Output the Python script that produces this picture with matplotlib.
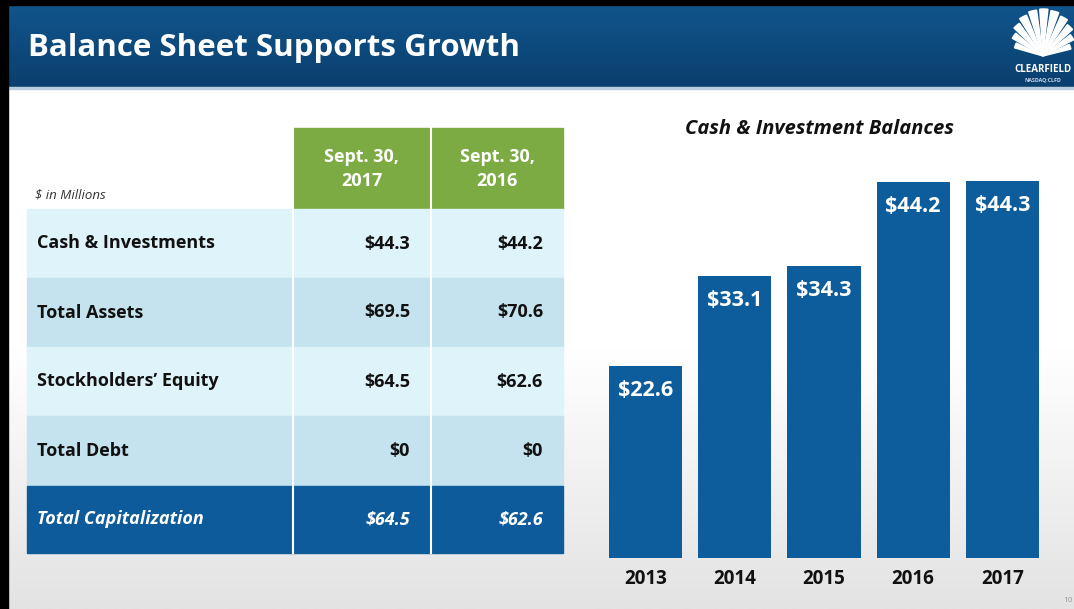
import numpy as np
import matplotlib.pyplot as plt
from matplotlib.patches import Rectangle, Wedge
from matplotlib.colors import LinearSegmentedColormap

# data
years = ['2013', '2014', '2015', '2016', '2017']
balances = [22.6, 33.1, 34.3, 44.2, 44.3]

row_labels = ['Cash & Investments', 'Total Assets', 'Stockholders’ Equity',
              'Total Debt', 'Total Capitalization']
vals_2017 = [44.3, 69.5, 64.5, 0, 64.5]
vals_2016 = [44.2, 70.6, 62.6, 0, 62.6]
col_heads = ['Sept. 30,\n2017', 'Sept. 30,\n2016']

plt.rcParams['font.family'] = ['Open Sans', 'DejaVu Sans']

W, H = 1074, 609
fig = plt.figure(figsize=(W / 100, H / 100), dpi=100)

# background axes in pixel coords (y down)
bg = fig.add_axes([0, 0, 1, 1])
bg.set_xlim(0, W)
bg.set_ylim(H, 0)
bg.axis('off')

# slide background: white fading to light gray at the bottom
grad = np.linspace(0, 1, 300).reshape(-1, 1)
gray_cm = LinearSegmentedColormap.from_list('g', ['#ffffff', '#ffffff', '#e3e3e3'])
bg.imshow(grad, cmap=gray_cm, extent=(0, W, H, 88), aspect='auto', zorder=0)

# header band
hdr_cm = LinearSegmentedColormap.from_list('h', ['#11558c', '#0a3f6e'])
bg.imshow(np.linspace(0, 1, 100).reshape(-1, 1), cmap=hdr_cm,
          extent=(8, W, 88, 5), aspect='auto', zorder=1)
bg.add_patch(Rectangle((8, 87), W, 2, color='#b9cfe0', zorder=2))
bg.text(28, 48, 'Balance Sheet Supports Growth', color='white', fontsize=22.5,
        fontweight='bold', va='center', ha='left', zorder=3)

# black slide border
bg.add_patch(Rectangle((0, 0), 8, H, color='black', zorder=5))
bg.add_patch(Rectangle((0, 0), W, 5, color='black', zorder=5))

# logo (scallop shell: ribs fanning up from a point)
cx, cy = 1043, 56
n_ribs = 11
for k in range(n_ribs):
    a0 = 196 + k * 14
    mid = np.radians(a0 + 5)
    r = 20 + 27 * abs(np.sin(mid))
    bg.add_patch(Wedge((cx, cy), r, a0, a0 + 10, color='white', zorder=3))
bg.text(cx, 70, 'CLEARFIELD', color='white', fontsize=7, fontweight='bold',
        ha='center', va='center', zorder=3)
bg.text(cx, 80, 'NASDAQ:CLFD', color='#d0dcea', fontsize=3.8, fontweight='bold',
        ha='center', va='center', zorder=3)

# table
xs = [27, 293, 431, 563]
ys = [209, 278, 347, 416, 486, 553]
row_colors = ['#def3fa', '#c5e3ee', '#def3fa', '#c5e3ee', '#0d5b9b']

for j, head in enumerate(col_heads):
    bg.add_patch(Rectangle((xs[j + 1], 128), xs[j + 2] - xs[j + 1], 209 - 128,
                           color='#7cab43', zorder=2))
    bg.text((xs[j + 1] + xs[j + 2]) / 2, 169, head, color='white', fontsize=13,
            fontweight='bold', ha='center', va='center', linespacing=1.45, zorder=3)

bg.text(35, 195, '$ in Millions', fontsize=9.5, style='italic', color='#333333',
        ha='left', va='center', zorder=3)

for i, lab in enumerate(row_labels):
    y0, y1 = ys[i], ys[i + 1]
    bg.add_patch(Rectangle((xs[0], y0), xs[3] - xs[0], y1 - y0,
                           color=row_colors[i], zorder=2))
    last = i == len(row_labels) - 1
    tc = 'white' if last else '#111111'
    st = 'italic' if last else 'normal'
    ym = (y0 + y1) / 2
    bg.text(37, ym, lab, color=tc, fontsize=13, fontweight='bold', style=st,
            ha='left', va='center', zorder=3)
    bg.text(410, ym, '${:g}'.format(vals_2017[i]), color=tc, fontsize=13,
            fontweight='bold', style=st, ha='right', va='center', zorder=3)
    bg.text(543, ym, '${:g}'.format(vals_2016[i]), color=tc, fontsize=13,
            fontweight='bold', style=st, ha='right', va='center', zorder=3)

for x in xs[1:3]:
    bg.plot([x, x], [128, 553], color='white', lw=1.5, zorder=3)

# chart title
bg.text(819, 129, 'Cash & Investment Balances', fontsize=14.5, fontweight='bold',
        style='italic', color='#111111', ha='center', va='center', zorder=3)

# page number
bg.text(1073, 600, '10', fontsize=6, color='#999999', ha='right', va='center', zorder=3)

# bar chart
ax = fig.add_axes([600.9 / W, (H - 558) / H, (1047 - 600.9) / W, (558 - 120) / H])
ax.patch.set_alpha(0)
x = np.arange(len(years))
bars = ax.bar(x, balances, width=0.82, color='#0d5c9c')
ax.set_xlim(-0.5, len(years) - 0.5)
ax.set_ylim(0, 51.5)
for b, v in zip(bars, balances):
    ax.annotate('${:.1f}'.format(v), (b.get_x() + b.get_width() / 2, v),
                xytext=(0, -17.5), textcoords='offset points', ha='center',
                va='center', color='white', fontsize=15.5, fontweight='bold')
ax.set_xticks(x)
ax.set_xticklabels(years, fontsize=13.5, fontweight='bold', color='#111111')
ax.tick_params(axis='x', length=0, pad=8)
ax.set_yticks([])
for s in ax.spines.values():
    s.set_visible(False)

plt.savefig('out.png', dpi=100)
